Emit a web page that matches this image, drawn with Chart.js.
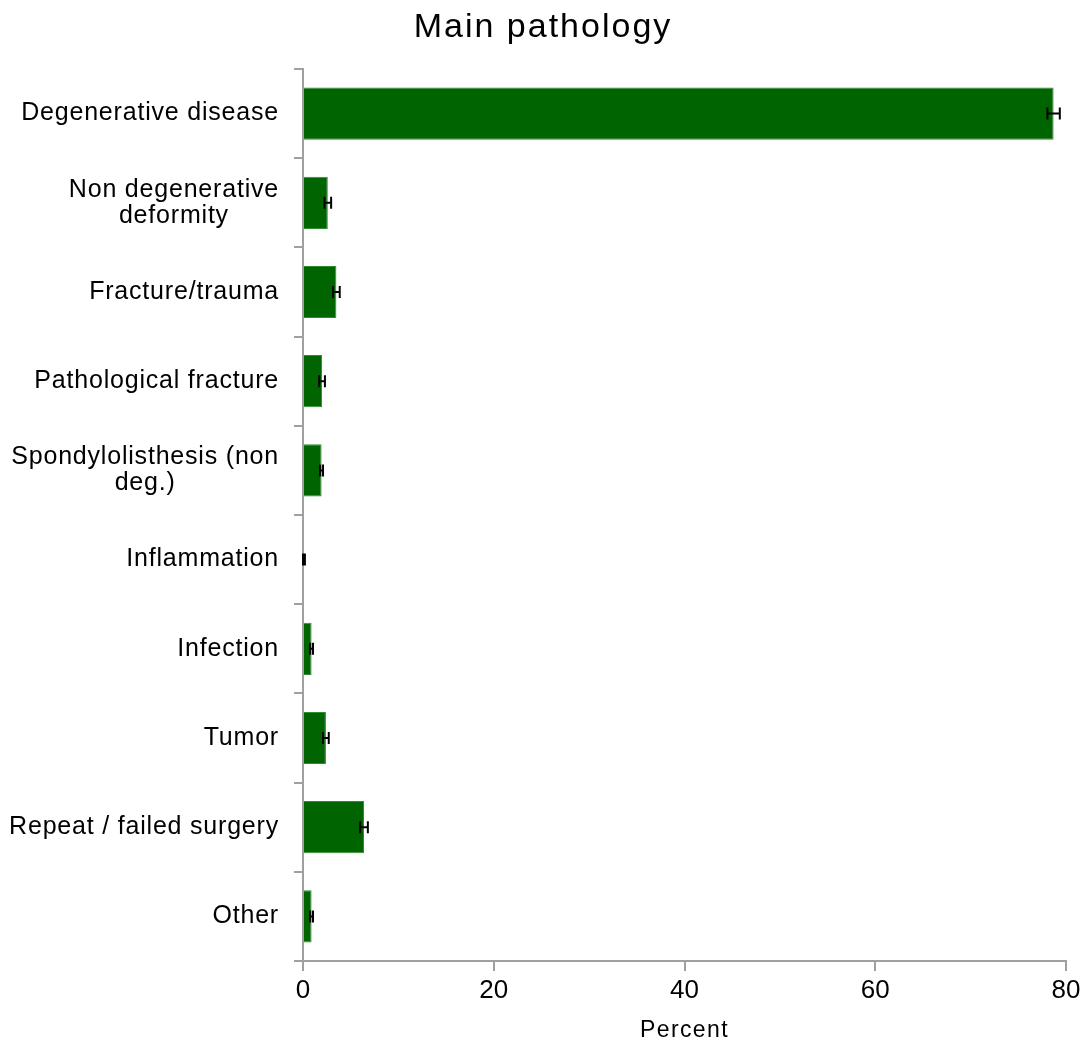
<!DOCTYPE html>
<html>
<head>
<meta charset="utf-8">
<script src="https://cdn.jsdelivr.net/npm/chart.js@4"></script>
<style>
  body { margin: 0; background: #fff; }
</style>
</head>
<body>
<canvas id="chartPatologia" width="1086" height="1045"></canvas>
<script>
// Dados
const categorias = [
  'Degenerative disease',
  ['Non degenerative', 'deformity'],
  'Fracture/trauma',
  'Pathological fracture',
  ['Spondylolisthesis (non', 'deg.)'],
  'Inflammation',
  'Infection',
  'Tumor',
  'Repeat / failed surgery',
  'Other'
];
const percentuais = [78.7, 2.6, 3.5, 2.0, 1.95, 0.1, 0.9, 2.4, 6.4, 0.9];
const erros = [0.65, 0.35, 0.35, 0.3, 0.15, 0.1, 0.15, 0.3, 0.4, 0.15];
const ticksX = [0, 20, 40, 60, 80];
const titulo = 'Main pathology';
const tituloX = 'Percent';

const fonte = "'Liberation Sans', Arial, sans-serif";

// barras de erro desenhadas pelas escalas do gráfico
const barrasErro = {
  id: 'barrasErro',
  afterDatasetsDraw(chart) {
    const { ctx, scales } = chart;
    const meta = chart.getDatasetMeta(0);
    ctx.save();
    ctx.strokeStyle = '#000';
    ctx.lineWidth = 2;
    meta.data.forEach((bar, i) => {
      const y = bar.y;
      const x1 = scales.x.getPixelForValue(percentuais[i] - erros[i]);
      const x2 = scales.x.getPixelForValue(percentuais[i] + erros[i]);
      ctx.beginPath();
      ctx.moveTo(x1, y); ctx.lineTo(x2, y);
      ctx.moveTo(x1, y - 6); ctx.lineTo(x1, y + 6);
      ctx.moveTo(x2, y - 6); ctx.lineTo(x2, y + 6);
      ctx.stroke();
    });
    ctx.restore();
  }
};

// textos com espaçamento entre letras (título, categorias, título do eixo)
const textos = {
  id: 'textos',
  afterDraw(chart) {
    const { ctx, scales, chartArea } = chart;
    ctx.save();
    ctx.fillStyle = '#000';

    // título
    ctx.font = `34px ${fonte}`;
    ctx.letterSpacing = '2px';
    ctx.textAlign = 'center';
    ctx.textBaseline = 'alphabetic';
    ctx.fillText(titulo, chart.width / 2, 37);

    // rótulos das categorias (linhas centralizadas entre si)
    ctx.font = `25px ${fonte}`;
    ctx.letterSpacing = '0.8px';
    ctx.textBaseline = 'middle';
    const direita = chartArea.left - 24;
    const alturaLinha = 26;
    categorias.forEach((cat, i) => {
      const linhas = Array.isArray(cat) ? cat : [cat];
      const larg = Math.max(...linhas.map(l => ctx.measureText(l).width));
      const cx = direita - larg / 2;
      const cy = scales.y.getPixelForTick(i);
      linhas.forEach((l, k) => {
        const y = cy + (k - (linhas.length - 1) / 2) * alturaLinha;
        ctx.fillText(l, cx, y);
      });
    });

    // título do eixo x
    ctx.font = `23px ${fonte}`;
    ctx.letterSpacing = '1.4px';
    ctx.textBaseline = 'alphabetic';
    ctx.fillText(tituloX, (chartArea.left + chartArea.right) / 2, 1037);
    ctx.restore();
  }
};

const ctxPatologia = document.getElementById('chartPatologia').getContext('2d');
const chartPatologia = new Chart(ctxPatologia, {
  type: 'bar',
  data: {
    labels: categorias,
    datasets: [{
      label: 'Percent',
      data: percentuais,
      backgroundColor: '#006400',
      borderColor: '#2e8b2e',
      borderWidth: 1,
      barPercentage: 0.585,
      categoryPercentage: 1.0
    }]
  },
  options: {
    indexAxis: 'y',
    responsive: false,
    animation: false,
    layout: { padding: { left: 0, right: 20, top: 69, bottom: 0 } },
    plugins: {
      legend: { display: false },
      tooltip: { enabled: false },
      title: { display: false }
    },
    scales: {
      x: {
        min: 0,
        max: 80,
        afterBuildTicks(scale) {
          scale.ticks = ticksX.map(v => ({ value: v }));
        },
        border: { color: '#a0a0a0', width: 2 },
        grid: { drawOnChartArea: false, drawTicks: true, tickLength: 10, color: '#a0a0a0', lineWidth: 2 },
        ticks: { color: '#000', font: { family: fonte, size: 26 }, padding: 4 },
        afterFit(scale) { scale.height = 84; }
      },
      y: {
        offset: true,
        border: { color: '#a0a0a0', width: 2 },
        grid: { offset: true, drawOnChartArea: false, drawTicks: true, tickLength: 9, color: '#a0a0a0', lineWidth: 2 },
        ticks: { display: false },
        afterFit(scale) { scale.width = 303; }
      }
    }
  },
  plugins: [barrasErro, textos]
});
</script>
</body>
</html>
